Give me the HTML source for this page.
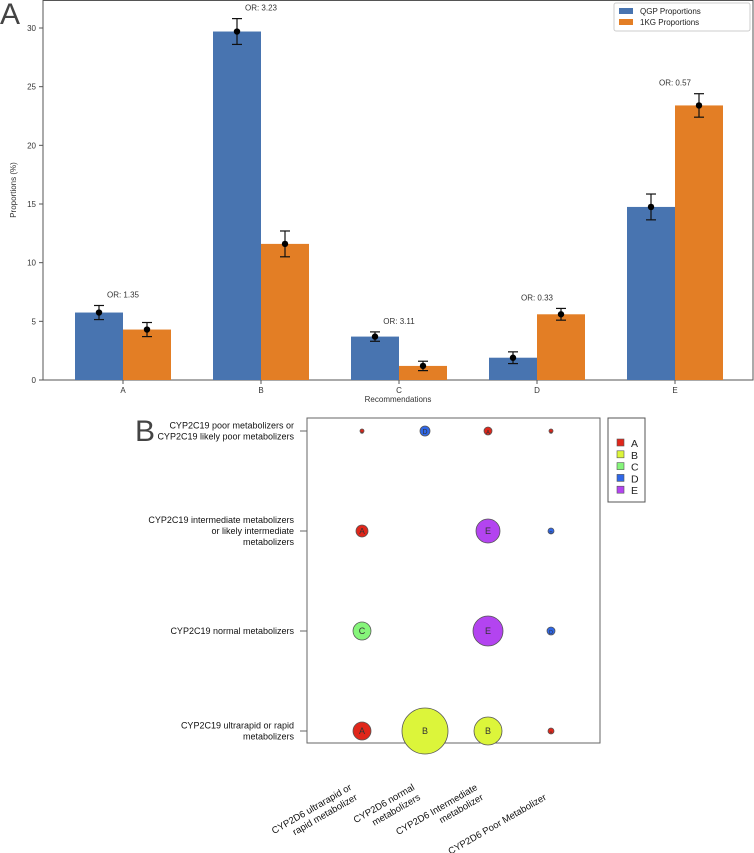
<!DOCTYPE html>
<html><head><meta charset="utf-8"><style>
body{margin:0;background:#fff}
svg{display:block;font-family:"Liberation Sans","DejaVu Sans",sans-serif}
</style></head><body>
<svg id="chart" width="754" height="853" viewBox="0 0 754 853">
<text x="0" y="24" font-size="30" fill="#444" font-weight="300">A</text>
<text x="135" y="441" font-size="30" fill="#444" font-weight="300">B</text>
<g id="topChart"></g>
<g id="bottomChart"></g>
</svg>
<script>
const categories = ["A","B","C","D","E"];
const qgpValues = [5.75, 29.7, 3.7, 1.9, 14.75];
const kgValues = [4.3, 11.6, 1.2, 5.6, 23.4];
const qgpErr = [0.6, 1.1, 0.4, 0.5, 1.1];
const kgErr = [0.6, 1.1, 0.4, 0.5, 1.0];
const orLabels = ["OR: 1.35","OR: 3.23","OR: 3.11","OR: 0.33","OR: 0.57"];
const yTicks = [0,5,10,15,20,25,30];

const rowLabels = [["CYP2C19 poor metabolizers or","CYP2C19 likely poor metabolizers"],["CYP2C19 intermediate metabolizers","or likely intermediate","metabolizers"],["CYP2C19 normal metabolizers"],["CYP2C19 ultrarapid or rapid","metabolizers"]];
const colLabels = [["CYP2D6 ultrarapid or","rapid metabolizer"],["CYP2D6 normal","metabolizers"],["CYP2D6 Intermediate","metabolizer"],["CYP2D6 Poor Metabolizer"]];
const bubbleRow = [0,0,0,0,1,1,1,2,2,2,3,3,3,3];
const bubbleCol = [0,1,2,3,0,2,3,0,2,3,0,1,2,3];
const bubbleCat = ["A","D","A","A","A","E","D","C","E","D","A","B","B","A"];
const bubbleSize = [2,5,4,2,6,12,3,9,15,4,9,23,14,3];
const legendCats = ["A","B","C","D","E"];
const catColors = {A:"#e0261a",B:"#dcf53a",C:"#86f57a",D:"#2f67e8",E:"#b344f0"};

const NS="http://www.w3.org/2000/svg";
function mk(tag,attrs,parent,txt){const el=document.createElementNS(NS,tag);for(const k in attrs)el.setAttribute(k,attrs[k]);if(txt!==undefined)el.textContent=txt;parent.appendChild(el);return el;}

// ---- top chart
const topG=document.getElementById('topChart');
const x0=43,x1=753,yb=380;
const ys=v=>380-v*(352/30);
const gx=i=>123+i*138;
const bw=48;
let el0=mk('rect',{x:x0,y:0.5,width:x1-x0,height:yb-0.5,fill:'none',stroke:'#555','stroke-width':1},topG);


yTicks.forEach(t=>{
  const y=ys(t);
  let l=mk('line',{x1:x0-4,x2:x0,y1:y,y2:y,stroke:'#555'},topG);
  
  
  let tx=mk('text',{x:x0-7,y:y+3,'font-size':8,'text-anchor':'end',fill:'#333'},topG,String(t));
  
  
});
el0=mk('text',{transform:'translate(16,190) rotate(-90)','font-size':8,'text-anchor':'middle',fill:'#333'},topG,'Proportions (%)');


el0=mk('text',{x:398,y:402,'font-size':8,'text-anchor':'middle',fill:'#333'},topG,'Recommendations');


function errbar(cxp,v,er){
  const g=mk('g',{},topG);
  
  
  mk('line',{x1:cxp,x2:cxp,y1:ys(v+er),y2:ys(v-er),stroke:'#111','stroke-width':1.2},g);
  mk('line',{x1:cxp-5,x2:cxp+5,y1:ys(v+er),y2:ys(v+er),stroke:'#111','stroke-width':1.2},g);
  mk('line',{x1:cxp-5,x2:cxp+5,y1:ys(v-er),y2:ys(v-er),stroke:'#111','stroke-width':1.2},g);
  mk('circle',{cx:cxp,cy:ys(v),r:3.2,fill:'#000'},g);
}
categories.forEach((c,i)=>{
  const gc=gx(i);
  let b=mk('rect',{x:gc-bw,y:ys(qgpValues[i]),width:bw,height:yb-ys(qgpValues[i]),fill:'#4874b0'},topG);
  
  
  b=mk('rect',{x:gc,y:ys(kgValues[i]),width:bw,height:yb-ys(kgValues[i]),fill:'#e37e25'},topG);
  
  
  errbar(gc-bw/2,qgpValues[i],qgpErr[i]);
  errbar(gc+bw/2,kgValues[i],kgErr[i]);
  let l=mk('line',{x1:gc,x2:gc,y1:yb,y2:yb+4,stroke:'#555'},topG);
  
  
  let t=mk('text',{x:gc,y:yb+13,'font-size':8,'text-anchor':'middle',fill:'#333'},topG,c);
  
  
  const m=Math.max(qgpValues[i]+qgpErr[i],kgValues[i]+kgErr[i]);
  t=mk('text',{x:gc,y:ys(m)-8,'font-size':8,'text-anchor':'middle',fill:'#333'},topG,orLabels[i]);
  
  
});
const lg=mk('g',{},topG);


mk('rect',{x:614,y:3,width:136,height:28,fill:'#fff',stroke:'#ccc',rx:2},lg);
[["#4874b0","QGP Proportions",8],["#e37e25","1KG Proportions",19]].forEach(d=>{
  const g=mk('g',{},lg);
  
  
  mk('rect',{x:619,y:d[2],width:14,height:6,fill:d[0]},g);
  mk('text',{x:640,y:d[2]+6,'font-size':8,fill:'#222'},g,d[1]);
});

// ---- bottom chart
const botG=document.getElementById('bottomChart');
const bx0=307,bx1=600,by0=418,by1=743;
const colX=i=>362+i*63;
const rowY=i=>431+i*100;
el0=mk('rect',{x:bx0,y:by0,width:bx1-bx0,height:by1-by0,fill:'none',stroke:'#666','stroke-width':1},botG);


rowLabels.forEach((lines,i)=>{
  const y=rowY(i);
  let l=mk('line',{x1:bx0-7,x2:bx0,y1:y,y2:y,stroke:'#666'},botG);
  
  
  const n=lines.length;
  const t=mk('text',{'font-size':9,'text-anchor':'end',fill:'#111'},botG);
  
  
  lines.forEach((s,k)=>{mk('tspan',{x:294,y:y+3+(k-(n-1)/2)*11},t,s);});
});
colLabels.forEach((lines,i)=>{
  const x=colX(i);
  const t=mk('text',{'font-size':9.5,'text-anchor':'end',fill:'#111',transform:`translate(${x-4},799) rotate(-30)`},botG);
  
  
  lines.forEach((s,k)=>{mk('tspan',{x:0,y:(k-(lines.length-1))*11.5},t,s);});
});
bubbleRow.forEach((r,i)=>{
  const g=mk('g',{},botG);
  
  
  const x=colX(bubbleCol[i]),y=rowY(r),s=bubbleSize[i];
  mk('circle',{cx:x,cy:y,r:s,fill:catColors[bubbleCat[i]],stroke:'#555','stroke-width':0.8},g);
  mk('text',{x:x,y:y+3,'font-size':Math.min(9,Math.max(4,s*1.4)),'text-anchor':'middle',fill:'#333'},g,bubbleCat[i]);
});
const lb=mk('g',{},botG);


mk('rect',{x:608,y:418,width:37,height:84,fill:'#fff',stroke:'#555'},lb);
legendCats.forEach((c,i)=>{
  const g=mk('g',{},lb);
  
  
  const y=443+i*11.8;
  mk('rect',{x:617,y:y-4,width:7,height:7,fill:catColors[c],stroke:'#555','stroke-width':0.6},g);
  mk('text',{x:631,y:y+4,'font-size':10.5,fill:'#222'},g,c);
});
</script>
</body></html>
